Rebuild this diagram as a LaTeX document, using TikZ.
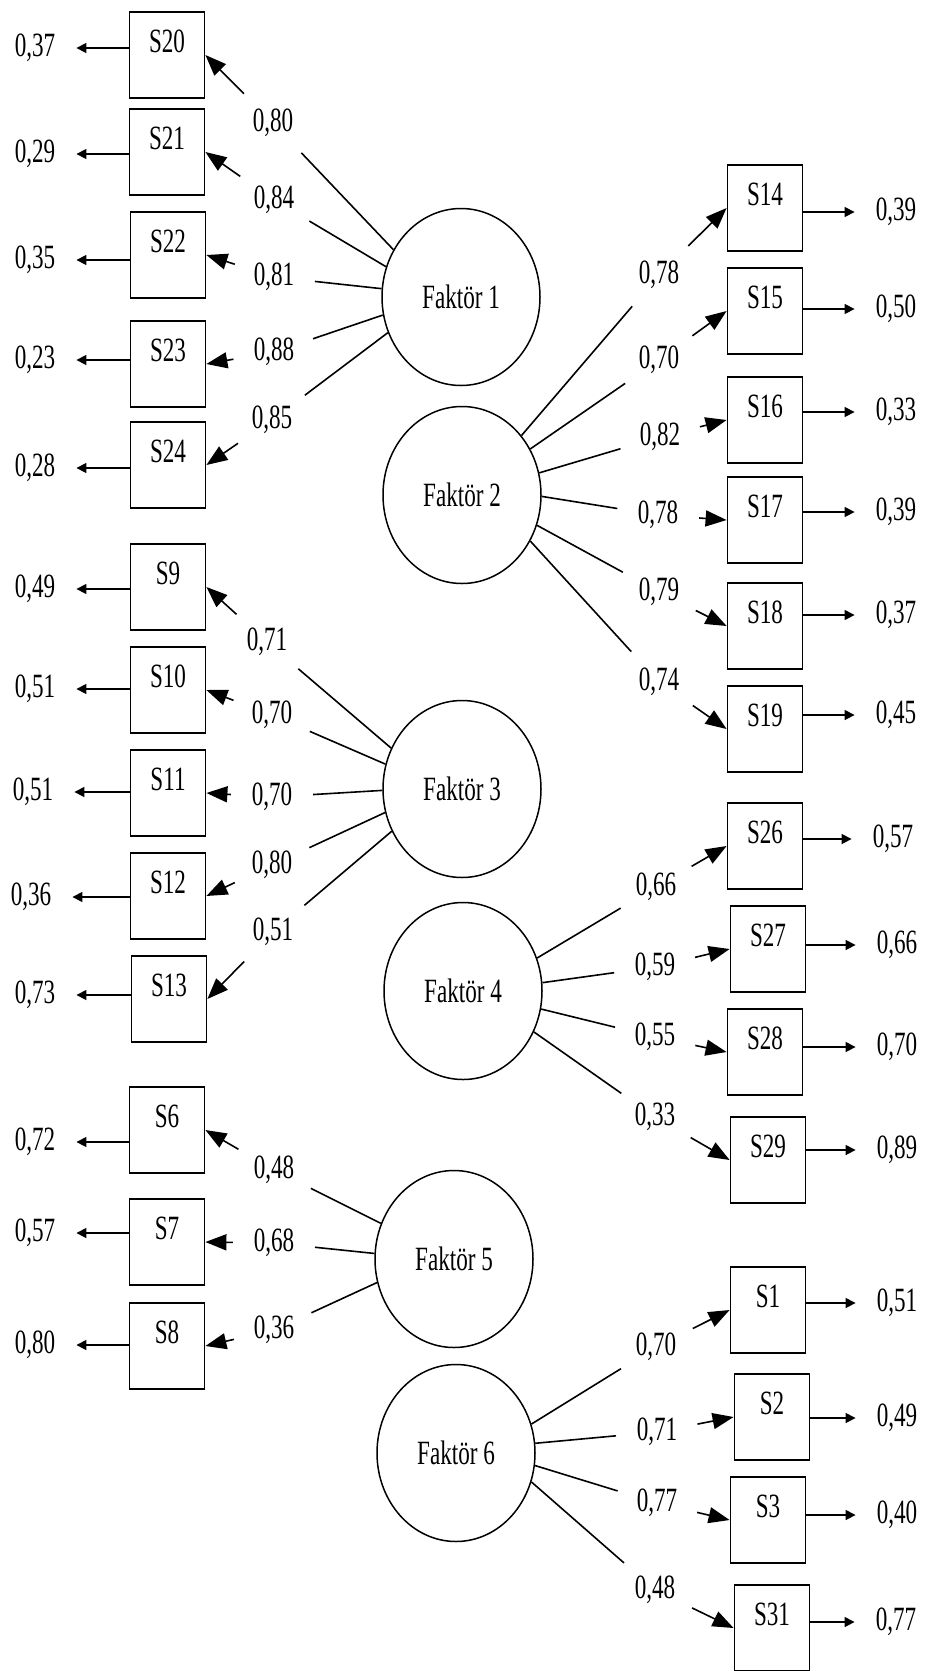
\documentclass[tikz,border=0pt]{standalone}
\usepackage{fontspec}
\setmainfont{Liberation Serif}[FakeStretch=0.68]
\usetikzlibrary{arrows.meta,shapes.geometric}

\tikzset{
    every node/.style={font=\fontsize{34pt}{40pt}\selectfont},
    item/.style={draw, line width=1.8pt, minimum width=75pt, minimum height=86pt,
        inner sep=0pt, text height=23pt, text depth=28pt},
    factor/.style={draw, ellipse, line width=1.5pt, minimum width=158pt,
        minimum height=177pt, inner sep=0pt},
    loading/.style={circle, inner sep=0pt, minimum size=82pt},
    error/.style={inner xsep=21pt, inner ysep=0pt},
    link/.style={line width=1.6pt},
    inarrow/.style={line width=1.6pt, -{Triangle[length=21pt,width=16pt]}},
    outarrow/.style={line width=1.6pt, -{Triangle[length=10pt,width=10pt]}}
}

\begin{document}
\begin{tikzpicture}[x=1pt, y=-1pt]
    \useasboundingbox (0,0) rectangle (924,1671);

    \node[factor] (f1) at (461, 297) {Faktör 1};
    \node[factor] (f2) at (462, 495) {Faktör 2};
    \node[factor] (f3) at (462, 789) {Faktör 3};
    \node[factor] (f4) at (463, 991) {Faktör 4};
    \node[factor] (f5) at (454, 1259) {Faktör 5};
    \node[factor] (f6) at (456, 1453) {Faktör 6};

    \node[item] (s20) at (167, 55) {S20};
    \node[item] (s21) at (167, 152) {S21};
    \node[item] (s22) at (168, 255) {S22};
    \node[item] (s23) at (168, 364) {S23};
    \node[item] (s24) at (168, 465) {S24};
    \node[item] (s9) at (168, 587) {S9};
    \node[item] (s10) at (168, 690) {S10};
    \node[item] (s11) at (168, 793) {S11};
    \node[item] (s12) at (168, 896) {S12};
    \node[item] (s13) at (169, 999) {S13};
    \node[item] (s6) at (167, 1130) {S6};
    \node[item] (s7) at (167, 1242) {S7};
    \node[item] (s8) at (167, 1346) {S8};

    \node[item] (s14) at (765, 208) {S14};
    \node[item] (s15) at (765, 311) {S15};
    \node[item] (s16) at (765, 420) {S16};
    \node[item] (s17) at (765, 520) {S17};
    \node[item] (s18) at (765, 626) {S18};
    \node[item] (s19) at (765, 729) {S19};
    \node[item] (s26) at (765, 846) {S26};
    \node[item] (s27) at (768, 949) {S27};
    \node[item] (s28) at (765, 1052) {S28};
    \node[item] (s29) at (768, 1160) {S29};
    \node[item] (s1) at (768, 1310) {S1};
    \node[item] (s2) at (772, 1417) {S2};
    \node[item] (s3) at (768, 1520) {S3};
    \node[item] (s31) at (772, 1628) {S31};

    \node[error] (e20) at (35, 48) {0,37};
    \node[error] (e21) at (35, 154) {0,29};
    \node[error] (e22) at (35, 260) {0,35};
    \node[error] (e23) at (35, 360) {0,23};
    \node[error] (e24) at (35, 468) {0,28};
    \node[error] (e9) at (35, 589) {0,49};
    \node[error] (e10) at (35, 689) {0,51};
    \node[error] (e11) at (33, 792) {0,51};
    \node[error] (e12) at (31, 897) {0,36};
    \node[error] (e13) at (35, 995) {0,73};
    \node[error] (e6) at (35, 1142) {0,72};
    \node[error] (e7) at (35, 1233) {0,57};
    \node[error] (e8) at (35, 1345) {0,80};

    \node[error] (e14) at (896, 212) {0,39};
    \node[error] (e15) at (896, 309) {0,50};
    \node[error] (e16) at (896, 412) {0,33};
    \node[error] (e17) at (896, 512) {0,39};
    \node[error] (e18) at (896, 615) {0,37};
    \node[error] (e19) at (896, 715) {0,45};
    \node[error] (e26) at (893, 839) {0,57};
    \node[error] (e27) at (897, 945) {0,66};
    \node[error] (e28) at (897, 1047) {0,70};
    \node[error] (e29) at (897, 1150) {0,89};
    \node[error] (e1) at (897, 1303) {0,51};
    \node[error] (e2) at (897, 1418) {0,49};
    \node[error] (e3) at (897, 1515) {0,40};
    \node[error] (e31) at (896, 1622) {0,77};

    \node[loading] (l20) at (273, 123) {0,80};
    \node[loading] (l21) at (274, 200) {0,84};
    \node[loading] (l22) at (274, 277) {0,81};
    \node[loading] (l23) at (274, 352) {0,88};
    \node[loading] (l24) at (272, 420) {0,85};
    \node[loading] (l9) at (267, 642) {0,71};
    \node[loading] (l10) at (272, 715) {0,70};
    \node[loading] (l11) at (272, 797) {0,70};
    \node[loading] (l12) at (272, 865) {0,80};
    \node[loading] (l13) at (273, 932) {0,51};
    \node[loading] (l6) at (274, 1170) {0,48};
    \node[loading] (l7) at (274, 1243) {0,68};
    \node[loading] (l8) at (274, 1330) {0,36};

    \node[loading] (l14) at (659, 275) {0,78};
    \node[loading] (l15) at (659, 360) {0,70};
    \node[loading] (l16) at (660, 437) {0,82};
    \node[loading] (l17) at (658, 515) {0,78};
    \node[loading] (l18) at (659, 592) {0,79};
    \node[loading] (l19) at (659, 682) {0,74};
    \node[loading] (l26) at (656, 887) {0,66};
    \node[loading] (l27) at (655, 967) {0,59};
    \node[loading] (l28) at (655, 1037) {0,55};
    \node[loading] (l29) at (655, 1117) {0,33};
    \node[loading] (l1) at (656, 1347) {0,70};
    \node[loading] (l2) at (657, 1432) {0,71};
    \node[loading] (l3) at (657, 1503) {0,77};
    \node[loading] (l31) at (655, 1590) {0,48};

    \draw[link] (f1.145) -- (l20);
    \draw[link] (f1.158) -- (l21);
    \draw[link] (f1.174) -- (l22);
    \draw[link] (f1.193) -- (l23);
    \draw[link] (f1.206) -- (l24);
    \draw[link] (f3.150) -- (l9);
    \draw[link] (f3.162) -- (l10);
    \draw[link] (f3.181) -- (l11);
    \draw[link] (f3.197) -- (l12);
    \draw[link] (f3.211) -- (l13);
    \draw[link] (f5.154) -- (l6);
    \draw[link] (f5.176) -- (l7);
    \draw[link] (f5.197) -- (l8);

    \draw[link] (f2.45) -- (l14);
    \draw[link] (f2.34) -- (l15);
    \draw[link] (f2.16) -- (l16);
    \draw[link] (f2.-1) -- (l17);
    \draw[link] (f2.-22) -- (l18);
    \draw[link] (f2.-34) -- (l19);
    \draw[link] (f4.24) -- (l26);
    \draw[link] (f4.6) -- (l27);
    \draw[link] (f4.-13) -- (l28);
    \draw[link] (f4.-30) -- (l29);
    \draw[link] (f6.21) -- (l1);
    \draw[link] (f6.7) -- (l2);
    \draw[link] (f6.-9) -- (l3);
    \draw[link] (f6.-21) -- (l31);

    \draw[inarrow] (l20) -- (s20.east);
    \draw[inarrow] (l21) -- (s21.east);
    \draw[inarrow] (l22) -- (s22.east);
    \draw[inarrow] (l23) -- (s23.east);
    \draw[inarrow] (l24) -- (s24.east);
    \draw[inarrow] (l9) -- (s9.east);
    \draw[inarrow] (l10) -- (s10.east);
    \draw[inarrow] (l11) -- (s11.east);
    \draw[inarrow] (l12) -- (s12.east);
    \draw[inarrow] (l13) -- (s13.east);
    \draw[inarrow] (l6) -- (s6.east);
    \draw[inarrow] (l7) -- (s7.east);
    \draw[inarrow] (l8) -- (s8.east);

    \draw[inarrow] (l14) -- (s14.west);
    \draw[inarrow] (l15) -- (s15.west);
    \draw[inarrow] (l16) -- (s16.west);
    \draw[inarrow] (l17) -- (s17.west);
    \draw[inarrow] (l18) -- (s18.west);
    \draw[inarrow] (l19) -- (s19.west);
    \draw[inarrow] (l26) -- (s26.west);
    \draw[inarrow] (l27) -- (s27.west);
    \draw[inarrow] (l28) -- (s28.west);
    \draw[inarrow] (l29) -- (s29.west);
    \draw[inarrow] (l1) -- (s1.west);
    \draw[inarrow] (l2) -- (s2.west);
    \draw[inarrow] (l3) -- (s3.west);
    \draw[inarrow] (l31) -- (s31.west);

    \draw[outarrow] (s20.west |- e20) -- (e20);
    \draw[outarrow] (s21.west |- e21) -- (e21);
    \draw[outarrow] (s22.west |- e22) -- (e22);
    \draw[outarrow] (s23.west |- e23) -- (e23);
    \draw[outarrow] (s24.west |- e24) -- (e24);
    \draw[outarrow] (s9.west |- e9) -- (e9);
    \draw[outarrow] (s10.west |- e10) -- (e10);
    \draw[outarrow] (s11.west |- e11) -- (e11);
    \draw[outarrow] (s12.west |- e12) -- (e12);
    \draw[outarrow] (s13.west |- e13) -- (e13);
    \draw[outarrow] (s6.west |- e6) -- (e6);
    \draw[outarrow] (s7.west |- e7) -- (e7);
    \draw[outarrow] (s8.west |- e8) -- (e8);

    \draw[outarrow] (s14.east |- e14) -- (e14);
    \draw[outarrow] (s15.east |- e15) -- (e15);
    \draw[outarrow] (s16.east |- e16) -- (e16);
    \draw[outarrow] (s17.east |- e17) -- (e17);
    \draw[outarrow] (s18.east |- e18) -- (e18);
    \draw[outarrow] (s19.east |- e19) -- (e19);
    \draw[outarrow] (s26.east |- e26) -- (e26);
    \draw[outarrow] (s27.east |- e27) -- (e27);
    \draw[outarrow] (s28.east |- e28) -- (e28);
    \draw[outarrow] (s29.east |- e29) -- (e29);
    \draw[outarrow] (s1.east |- e1) -- (e1);
    \draw[outarrow] (s2.east |- e2) -- (e2);
    \draw[outarrow] (s3.east |- e3) -- (e3);
    \draw[outarrow] (s31.east |- e31) -- (e31);
\end{tikzpicture}
\end{document}
